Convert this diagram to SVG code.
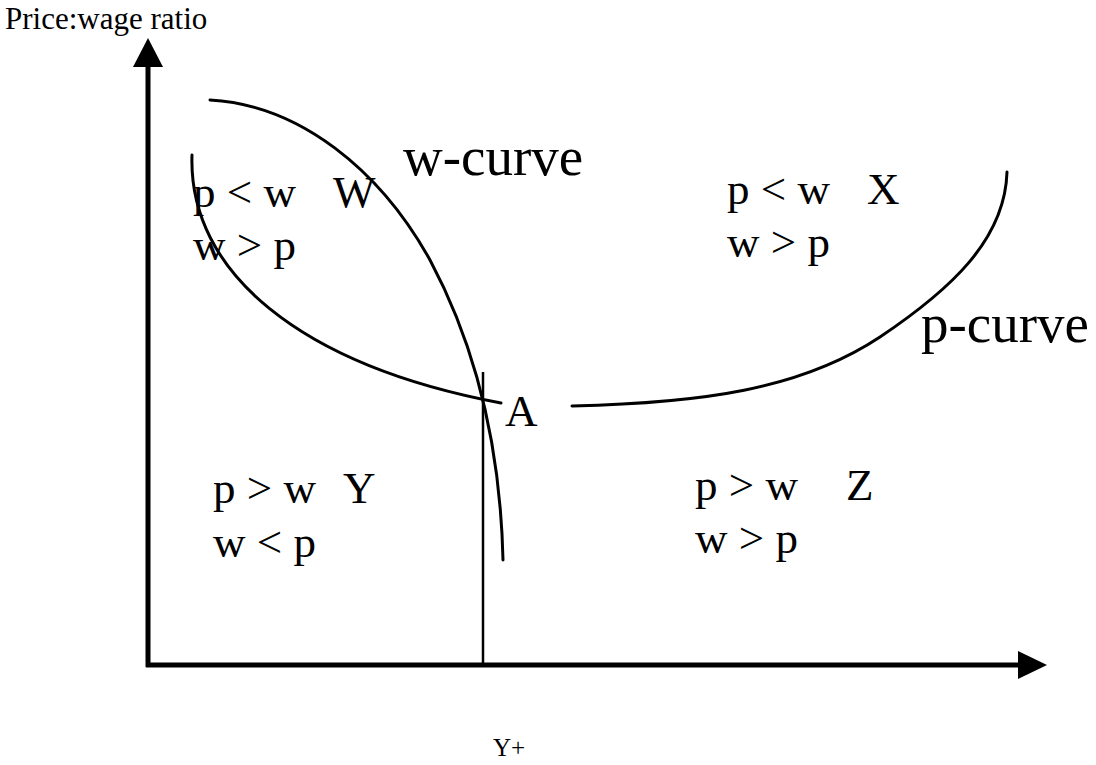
<svg xmlns="http://www.w3.org/2000/svg" width="1096" height="765" viewBox="0 0 1096 765">
<style>
text{fill:#000;font-family:'Liberation Serif','Times New Roman',serif}
.r{font-size:45px}
.c{font-size:55px}
.axis{stroke:#000;stroke-width:5;fill:none}
.curve{stroke:#000;stroke-width:3;fill:none;stroke-linecap:round}
</style>
<rect width="1096" height="765" fill="#fff"/>
<g id="axes">
<line class="axis" x1="148" y1="667" x2="148" y2="64"/>
<polygon points="133,67 163,67 148,38" fill="#000"/>
<line class="axis" x1="146" y1="665" x2="1020" y2="665"/>
<polygon points="1018,651 1018,679 1047,665" fill="#000"/>
<text x="5" y="29" font-size="31">Price:wage ratio</text>
<text x="493" y="756" font-size="25">Y+</text>
</g>
<g id="connectors">
<line x1="483" y1="372" x2="483" y2="665" stroke="#000" stroke-width="2.5"/>
<path id="w-curve-line" class="curve" d="M210,100 C300,105 380,170 430,260 C470,335 500,430 503,560"/>
<path id="p-curve-left" class="curve" d="M192,155 C188,272 300,365 501,403"/>
<path id="p-curve-right" class="curve" d="M572,406 C700,403 800,390 880,337 C950,290 1005,240 1007,172"/>
</g>
<g id="w-curve-label"><text class="c" x="403" y="175">w-curve</text></g>
<g id="p-curve-label"><text class="c" x="921" y="342">p-curve</text></g>
<g id="point-A"><text class="r" x="505" y="426">A</text></g>
<g id="region-W">
<text class="r" x="193" y="207">p &lt; w</text>
<text class="r" x="333" y="207">W</text>
<text class="r" x="193" y="260">w &gt; p</text>
</g>
<g id="region-X">
<text class="r" x="727" y="204">p &lt; w</text>
<text class="r" x="867" y="204">X</text>
<text class="r" x="727" y="257">w &gt; p</text>
</g>
<g id="region-Y">
<text class="r" x="213" y="503">p &gt; w</text>
<text class="r" x="343" y="503">Y</text>
<text class="r" x="213" y="557">w &lt; p</text>
</g>
<g id="region-Z">
<text class="r" x="695" y="500">p &gt; w</text>
<text class="r" x="846" y="500">Z</text>
<text class="r" x="695" y="553">w &gt; p</text>
</g>
</svg>
